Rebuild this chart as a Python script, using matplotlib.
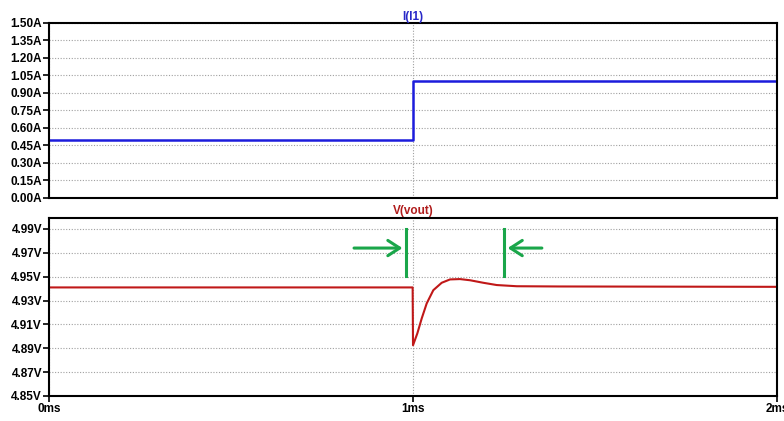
import matplotlib.pyplot as plt

# current step I(I1)
t_i = [0.0, 1.0, 1.0, 2.0]
i_l1 = [0.5, 0.5, 1.0, 1.0]

# output voltage V(vout)
t_v = [0.0, 0.999, 1.0, 1.0118, 1.0239, 1.0376, 1.0558, 1.0788, 1.1016, 1.129,
       1.157, 1.193, 1.23, 1.285, 1.4, 2.0]
v_out = [4.941, 4.941, 4.8925, 4.9024, 4.915, 4.9276, 4.9387, 4.9449, 4.9477, 4.948,
         4.947, 4.9449, 4.943, 4.942, 4.9418, 4.9415]

i_ticks = [0.0, 0.15, 0.30, 0.45, 0.60, 0.75, 0.90, 1.05, 1.20, 1.35, 1.50]
v_ticks = [4.85, 4.87, 4.89, 4.91, 4.93, 4.95, 4.97, 4.99]
t_ticks = [0, 1, 2]

# settling window markers (bar position, arrow tip, arrow tail)
marks_t = [0.981, 1.25]
tips_t = [0.971, 1.26]
tails_t = [0.838, 1.354]
mark_lo, mark_hi, arrow_v = 4.9508, 4.99, 4.974

plt.rcParams['font.family'] = ['Liberation Sans', 'DejaVu Sans']
fig = plt.figure(figsize=(7.84, 4.21), dpi=100)
ax1 = fig.add_axes([0.0625, 0.5297, 0.9286, 0.4157])
ax2 = fig.add_axes([0.0625, 0.0594, 0.9286, 0.4228])

ax1.plot(t_i, i_l1, color='#1c1cdc', lw=1.8)
ax2.plot(t_v, v_out, color='#c01818', lw=1.5)

gr = '#a0a0a0'
for ax in (ax1, ax2):
    ax.set_xlim(0, 2)
    ax.set_xticks(t_ticks)
    ax.grid(True, ls=(0, (1, 1.5)), color=gr, lw=0.8)
    for s in ax.spines.values():
        s.set_linewidth(1.5)
    ax.tick_params(direction='out', length=4, width=1.2, labelsize=8.5, pad=1)

ax1.set_ylim(0, 1.5)
ax1.set_yticks(i_ticks)
ax1.set_yticklabels([f'{v:.2f}A' for v in i_ticks], fontweight='bold')
ax1.tick_params(axis='x', labelbottom=False, length=0)
ax1.set_title('I(I1)', color='#2828c8', fontsize=8.5, fontweight='bold', pad=2)

ax2.set_ylim(4.85, 4.9992)
ax2.set_yticks(v_ticks)
ax2.set_yticklabels([f'{v:.2f}V' for v in v_ticks], fontweight='bold')
ax2.set_xticklabels([f'{t}ms' for t in t_ticks], fontweight='bold')
ax2.set_title('V(vout)', color='#b01c1c', fontsize=8.5, fontweight='bold', pad=3)

grn = '#1aa64a'
for m, tip, tl in zip(marks_t, tips_t, tails_t):
    ax2.plot([m, m], [mark_lo, mark_hi], color=grn, lw=2.2)
    ax2.annotate('', xy=(tip, arrow_v), xytext=(tl, arrow_v),
                 arrowprops=dict(arrowstyle='->,head_width=0.55,head_length=0.85',
                                 color=grn, lw=2.2, shrinkA=0, shrinkB=0))

fig.savefig('out.png', dpi=100)
